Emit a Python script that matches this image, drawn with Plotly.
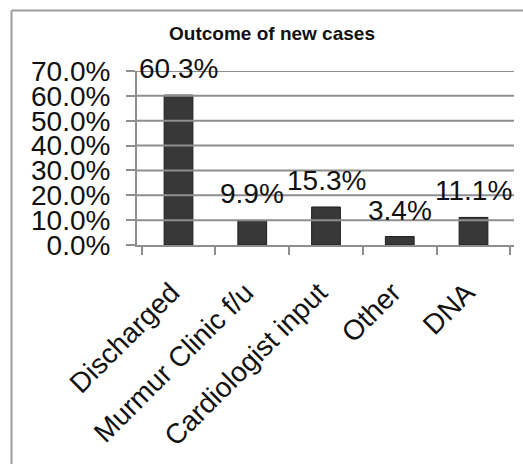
import plotly.graph_objects as go

categories = ["Discharged", "Murmur Clinic f/u", "Cardiologist input", "Other", "DNA"]
percent_values = [60.3, 9.9, 15.3, 3.4, 11.1]
y_tick_values = [0, 10, 20, 30, 40, 50, 60, 70]
y_tick_labels = ["0.0%", "10.0%", "20.0%", "30.0%", "40.0%", "50.0%", "60.0%", "70.0%"]

FONT = "Liberation Sans, Arial, sans-serif"
W, H = 523, 464
L, R, T, B = 137, 9, 71, 219

fig = go.Figure()

# horizontal gridlines at each y tick, drawn as a line trace on a hidden 0..1 x axis
grid_x, grid_y = [], []
for tv in y_tick_values[1:]:
    grid_x += [0, 1.005, None]
    grid_y += [tv, tv, None]
fig.add_trace(go.Scatter(
    x=grid_x, y=grid_y, mode="lines", xaxis="x2", yaxis="y",
    line=dict(color="#8e8e8e", width=2), hoverinfo="skip", cliponaxis=False,
))

fig.add_trace(go.Bar(
    x=categories,
    y=percent_values,
    width=0.39,
    marker=dict(color="#383838", line=dict(color="#1e1e1e", width=1)),
    hoverinfo="x+y",
))

# value labels sitting above each bar
for cat, v in zip(categories, percent_values):
    fig.add_annotation(
        x=cat, y=v, text=f"{v:.1f}%", showarrow=False,
        yanchor="bottom", yshift=9,
        font=dict(family=FONT, size=28, color="#111111"),
    )

# chart frame (left and top edges)
pw = W - L - R
ph = H - T - B
fx = (11.5 - L) / pw
fy = (H - B - 10.5) / ph
fig.add_shape(type="line", xref="paper", yref="paper", x0=fx, x1=fx, y0=-2.0, y1=fy,
              line=dict(color="#9c9c9c", width=2))
fig.add_shape(type="line", xref="paper", yref="paper", x0=fx, x1=1.2, y0=fy, y1=fy,
              line=dict(color="#9c9c9c", width=2))

fig.update_layout(
    width=W, height=H,
    margin=dict(l=L, r=R, t=T, b=B, pad=0),
    paper_bgcolor="white", plot_bgcolor="white",
    showlegend=False,
    title=dict(text="<b>Outcome of new cases</b>", x=272 / W, xref="container", xanchor="center",
               y=1 - 33 / H, yref="container", yanchor="middle",
               font=dict(family=FONT, size=19, color="#111111")),
    xaxis=dict(
        showline=True, linecolor="#8e8e8e", linewidth=2,
        ticks="outside", ticklen=8, tickcolor="#8e8e8e", tickwidth=2,
        tickson="boundaries",
        tickangle=-45,
        tickfont=dict(family=FONT, size=28, color="#111111"),
        ticklabelstandoff=18,
        ticklabelshift=-7,
        showgrid=False,
    ),
    xaxis2=dict(
        overlaying="x", range=[0, 1], visible=False, showgrid=False, zeroline=False,
    ),
    yaxis=dict(
        range=[0, 70],
        tickmode="array",
        tickvals=y_tick_values, ticktext=y_tick_labels,
        showline=True, linecolor="#8e8e8e", linewidth=2,
        ticks="outside", ticklen=9, tickcolor="#8e8e8e", tickwidth=2,
        showgrid=False,
        tickfont=dict(family=FONT, size=28, color="#111111"),
        ticklabelstandoff=10,
        zeroline=False,
    ),
)

fig.write_html("out.html")
